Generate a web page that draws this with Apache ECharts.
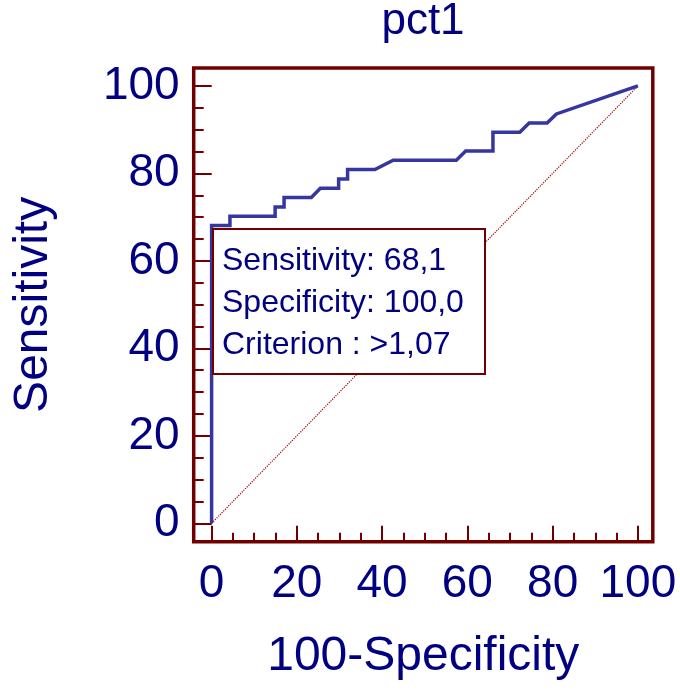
<!DOCTYPE html>
<html>
<head>
<meta charset="utf-8">
<title>pct1</title>
<script src="https://cdn.jsdelivr.net/npm/echarts@6/dist/echarts.min.js"></script>
<style>
  html, body { margin: 0; padding: 0; background: #fff; }
  #chart { width: 680px; height: 690px; }
</style>
</head>
<body>
<div id="chart"></div>
<script>
// ROC curve points: 100-Specificity (x) and Sensitivity (y)
const fprValues = [0, 0, 4.3, 4.3, 14.9, 14.9, 17.0, 17.0, 23.4, 25.5, 29.8, 29.8, 31.9, 31.9, 38.3, 42.6, 57.4, 59.6, 66.0, 66.0, 72.3, 74.5, 78.7, 80.9, 100];
const sensValues = [0, 68.1, 68.1, 70.2, 70.2, 72.3, 72.3, 74.5, 74.5, 76.6, 76.6, 78.7, 78.7, 80.9, 80.9, 83.0, 83.0, 85.1, 85.1, 89.4, 89.4, 91.5, 91.5, 93.6, 100];
// reference diagonal
const diagX = [0, 100];
const diagY = [0, 100];
const majorTicks = [0, 20, 40, 60, 80, 100];
const minorTicks = [5, 10, 15, 25, 30, 35, 45, 50, 55, 65, 70, 75, 85, 90, 95];
const boxLines = ["Sensitivity: 68,1", "Specificity: 100,0", "Criterion : >1,07"];

const navy = "#000080";
const frame = "#700000";
const font = "Liberation Sans";

const chart = echarts.init(document.getElementById("chart"));

// ticks point inward, axes sit on the grid frame (not on zero)
const tickAxis = (ticks, len, extra) => Object.assign({
  type: "value",
  axisLine: { show: false, onZero: false },
  splitLine: { show: false },
  axisLabel: { show: false },
  axisTick: {
    inside: true,
    length: len,
    customValues: ticks,
    lineStyle: { color: frame, width: 2 },
  },
}, extra);

chart.setOption({
  animation: false,
  title: [
    {
      text: "pct1",
      left: 423,
      top: 0,
      padding: 0,
      textAlign: "center",
      textStyle: { color: navy, fontSize: 44, fontWeight: "normal", fontFamily: font },
    },
    {
      text: boxLines.join("\n"),
      left: 213,
      top: 229,
      padding: [11, 10, 8, 9],
      backgroundColor: "#fff",
      borderColor: frame,
      borderWidth: 2,
      z: 10,
      textStyle: {
        color: navy,
        fontSize: 32,
        lineHeight: 42,
        width: 253,
        fontWeight: "normal",
        fontFamily: font,
      },
    },
  ],
  grid: {
    left: 193.7,
    right: 27.2,
    top: 68,
    bottom: 148.3,
    show: true,
    borderColor: frame,
    borderWidth: 3.5,
    backgroundColor: "transparent",
  },
  xAxis: [
    tickAxis(majorTicks, 16, {
      min: -4.2,
      max: 103.5,
      position: "bottom",
      name: "100-Specificity",
      nameLocation: "middle",
      nameGap: 91,
      nameTextStyle: { color: navy, fontSize: 48, fontFamily: font },
      axisLabel: {
        customValues: majorTicks, margin: 20,
        color: navy, fontSize: 46, fontFamily: font,
      },
    }),
    tickAxis(minorTicks, 9, { min: -4.2, max: 103.5, position: "bottom" }),
  ],
  yAxis: [
    tickAxis(majorTicks, 18, {
      min: -4.2,
      max: 104.1,
      position: "left",
      name: "Sensitivity",
      nameLocation: "middle",
      nameGap: 136,
      nameRotate: 90,
      nameTextStyle: { color: navy, fontSize: 48, fontFamily: font },
      axisLabel: {
        customValues: majorTicks, margin: 14,
        color: navy, fontSize: 46, fontFamily: font,
      },
    }),
    tickAxis(minorTicks, 10, { min: -4.2, max: 104.1, position: "left" }),
  ],
  series: [
    {
      type: "line",
      xAxisIndex: 0,
      yAxisIndex: 0,
      data: diagX.map((x, i) => [x, diagY[i]]),
      symbol: "none",
      silent: true,
      lineStyle: { color: "#a00000", width: 1.2, type: "dotted" },
    },
    {
      type: "line",
      xAxisIndex: 0,
      yAxisIndex: 0,
      data: fprValues.map((x, i) => [x, sensValues[i]]),
      symbol: "none",
      silent: true,
      lineStyle: { color: "#3636a0", width: 3.5, join: "miter" },
    },
  ],
});
</script>
</body>
</html>
